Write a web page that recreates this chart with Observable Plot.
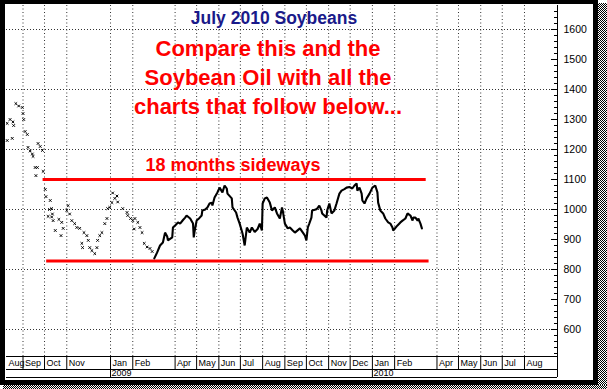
<!DOCTYPE html>
<html><head><meta charset="utf-8">
<script src="https://cdn.jsdelivr.net/npm/d3@7"></script>
<script src="https://cdn.jsdelivr.net/npm/@observablehq/plot@0.6"></script>
<style>
html,body{margin:0;padding:0;background:#fff;}
#wrap{position:relative;width:607px;height:389px;overflow:hidden;font-family:Arial,"Liberation Sans",sans-serif;background:#fff;}
#wrap svg{position:absolute;left:0;top:0;}
.ov{position:absolute;white-space:nowrap;font-weight:bold;line-height:1;font-family:Arial,"Liberation Sans",sans-serif;}
#title{left:274px;top:10px;transform:translateX(-50%);color:#1a1a8a;font-size:17.5px;}
#note{left:268px;top:34px;transform:translateX(-50%);color:#ff0000;font-size:22px;text-align:center;line-height:29px;}
#side{left:233px;top:156px;transform:translateX(-50%);color:#ff0000;font-size:18px;}
#border{position:absolute;left:0;top:0;width:598px;height:385px;border-style:solid;border-color:#000;border-width:4px 5px 5px 5px;box-sizing:border-box;}
#shR{position:absolute;left:598px;top:3px;width:9px;height:386px;background:repeating-conic-gradient(#000 0 25%,#fff 0 50%) 0 0/2px 2px;}
#shB{position:absolute;left:3px;top:385px;width:604px;height:4px;background:repeating-conic-gradient(#000 0 25%,#fff 0 50%) 0 0/2px 2px;}
</style>
</head><body>
<div id="wrap">
  <div id="chart"></div>
  <div class="ov" id="title">July 2010 Soybeans</div>
  <div class="ov" id="note">Compare this and the<br>Soybean Oil with all the<br>charts that follow below...</div>
  <div class="ov" id="side">18 months sideways</div>
  <div id="border"></div>
  <div id="shR"></div>
  <div id="shB"></div>
</div>
<script>
// ---- data ----
const sparseDates = ["2008-08-10","2008-08-10","2008-08-14","2008-08-17","2008-08-18","2008-08-19","2008-08-22","2008-08-26","2008-08-31","2008-09-01","2008-09-02","2008-09-04","2008-09-07","2008-09-08","2008-09-11","2008-09-14","2008-09-15","2008-09-18","2008-09-19","2008-09-21","2008-09-22","2008-09-25","2008-09-28","2008-09-29","2008-10-02","2008-10-03","2008-10-09","2008-10-06","2008-10-08","2008-10-11","2008-10-11","2008-10-12","2008-10-13","2008-10-16","2008-10-21","2008-10-25","2008-10-24","2008-10-27","2008-11-01","2008-11-03","2008-11-05","2008-11-08","2008-11-12","2008-11-15","2008-11-19","2008-11-22","2008-11-23","2008-11-25","2008-11-29","2008-12-01","2008-12-03","2008-12-06","2008-12-10","2008-12-13","2008-12-14","2008-12-17","2008-12-20","2008-12-24","2008-12-27","2008-12-28","2008-12-31","2009-01-03","2009-01-07","2009-01-04","2009-01-10","2009-01-11","2009-01-18","2009-01-24","2009-01-25","2009-01-29","2009-02-01","2009-02-04","2009-02-08","2009-02-03","2009-02-11","2009-02-14","2009-02-17","2009-02-21","2009-02-25","2009-02-28"];
const sparseValues = [1287,1230,1300,1237,1292,1280,1353,1345,1340,1320,1300,1260,1250,1207,1195,1185,1177,1140,1113,1140,1220,1210,1197,1127,1067,1043,1030,977,1000,1003,975,985,963,930,967,957,913,937,997,1013,985,963,953,940,937,887,873,923,913,897,873,863,853,873,897,913,923,953,970,1003,1007,1023,1037,1055,1045,1025,1003,990,980,970,963,970,957,935,940,923,887,875,870,860];

const lineDates = ["2009-03-03","2009-03-07","2009-03-11","2009-03-15","2009-03-18","2009-03-21","2009-03-22","2009-03-28","2009-03-29","2009-04-01","2009-04-05","2009-04-08","2009-04-12","2009-04-15","2009-04-17","2009-04-22","2009-04-26","2009-04-27","2009-04-28","2009-05-01","2009-05-05","2009-05-08","2009-05-09","2009-05-13","2009-05-16","2009-05-19","2009-05-22","2009-05-23","2009-05-26","2009-05-30","2009-06-02","2009-06-06","2009-06-09","2009-06-12","2009-06-13","2009-06-19","2009-06-20","2009-06-25","2009-06-27","2009-06-30","2009-07-04","2009-07-07","2009-07-10","2009-07-14","2009-07-17","2009-07-21","2009-07-25","2009-07-28","2009-07-31","2009-08-01","2009-08-04","2009-08-07","2009-08-11","2009-08-14","2009-08-18","2009-08-21","2009-08-25","2009-08-28","2009-08-29","2009-09-01","2009-09-05","2009-09-08","2009-09-12","2009-09-15","2009-09-22","2009-09-29","2009-10-01","2009-10-03","2009-10-05","2009-10-08","2009-10-09","2009-10-14","2009-10-16","2009-10-19","2009-10-22","2009-10-23","2009-10-29","2009-10-30","2009-11-02","2009-11-05","2009-11-09","2009-11-12","2009-11-16","2009-11-19","2009-11-23","2009-11-26","2009-11-30","2009-12-04","2009-12-07","2009-12-10","2009-12-11","2009-12-14","2009-12-17","2009-12-18","2009-12-21","2009-12-24","2009-12-28","2010-01-01","2010-01-05","2010-01-08","2010-01-09","2010-01-12","2010-01-16","2010-01-19","2010-01-23","2010-01-26","2010-01-29","2010-01-30","2010-02-05","2010-02-09","2010-02-12","2010-02-16","2010-02-19","2010-02-23","2010-02-26","2010-02-27","2010-03-02","2010-03-05","2010-03-06","2010-03-09","2010-03-11"];
const lineValues = [837,857,880,890,923,910,897,907,940,947,957,953,965,973,980,970,953,907,925,963,972,980,997,1000,1007,1020,1023,1013,1040,1057,1073,1057,1080,1070,1053,1037,1007,990,973,953,920,880,940,923,940,925,935,953,930,1020,1037,1040,1023,997,1007,987,970,1007,997,953,937,940,930,923,937,913,897,940,953,973,997,1000,1003,1013,997,987,973,997,1020,987,997,1020,1053,1063,1068,1073,1075,1070,1080,1087,1063,1073,1053,1030,1020,1037,1053,1073,1080,1057,1023,997,987,970,957,953,940,930,947,957,963,970,987,980,963,973,973,963,970,953,937];

const redLevels = [1100, 828];
const redStarts = ["2008-09-29","2008-10-04"];
const redEnds = ["2010-03-17","2010-03-21"];

const monthTicks = ["2008-08-01","2008-09-01","2008-10-01","2008-11-01","2009-01-01","2009-02-01","2009-04-01","2009-05-01","2009-06-01","2009-07-01","2009-08-01","2009-09-01","2009-10-01","2009-11-01","2009-12-01","2010-01-01","2010-02-01","2010-04-01","2010-05-01","2010-06-01","2010-07-01","2010-08-01"];
const yearTicks = ["2009-01-01","2010-01-01"];
const priceTicks = [600,700,800,900,1000,1100,1200,1300,1400,1500,1600];
const gridPrices = [600,800,1000,1200,1400,1600];

// ---- build ----
const parse = d3.utcParse("%Y-%m-%d");
const xStart = parse("2008-08-09"), xEnd = parse("2010-09-16");
const sparse = sparseDates.map((d,i)=>({d:parse(d), v:sparseValues[i]}));
const line = lineDates.map((d,i)=>({d:parse(d), v:lineValues[i]}));
const reds = redLevels.map((v,i)=>({v, a:parse(redStarts[i]), b:parse(redEnds[i])}));
const months = monthTicks.map(parse);
const monthsIn = months.filter(d=>d>=xStart);
const years = yearTicks.map(parse);
const minor = d3.range(520, 1680, 20);
const fmtM = d3.utcFormat("%b"), fmtY = d3.utcFormat("%Y");
const yMin = 510;
const noText = () => "";

const chart = Plot.plot({
  width: 607, height: 389,
  marginLeft: 6, marginRight: 50, marginTop: 5, marginBottom: 33,
  style: {fontFamily: "Arial, 'Liberation Sans', sans-serif", background: "transparent", overflow: "visible"},
  x: {type: "utc", domain: [xStart, xEnd], axis: null},
  y: {domain: [yMin, 1680], axis: null},
  marks: [
    Plot.ruleY(gridPrices, {stroke: "#333", strokeDasharray: "1,2"}),
    Plot.ruleX(monthsIn, {stroke: "#333", strokeDasharray: "1,2.5"}),
    Plot.ruleY(reds, {y: "v", x1: "a", x2: "b", stroke: "#ff0000", strokeWidth: 3}),
    Plot.dot(sparse, {x: "d", y: "v", symbol: "times", r: 1.3, stroke: "#000", strokeWidth: 1}),
    Plot.line(line, {x: "d", y: "v", stroke: "#000", strokeWidth: 2.1, strokeLinejoin: "miter"}),
    // right price axis
    Plot.ruleX([xEnd], {stroke: "#000"}),
    Plot.ruleY(minor, {insetLeft: 548, stroke: "#000"}),
    Plot.ruleY(priceTicks, {insetLeft: 545, stroke: "#000"}),
    Plot.text(priceTicks, {y: d => d, text: d => String(d), frameAnchor: "right", dx: 6, textAnchor: "start", fontSize: 10.5, fill: "#000"}),
    // bottom date band
    Plot.ruleY([yMin], {stroke: "#000"}),
    Plot.ruleY([yMin], {stroke: "#000", dy: 13}),
    Plot.ruleY([yMin], {stroke: "#000", dy: 21}),
    Plot.axisX({ticks: monthsIn, tickSize: 13, tickFormat: noText}),
    Plot.axisX({ticks: [xEnd], tickSize: 21, tickFormat: noText}),
    Plot.axisX({ticks: years, tickSize: 8, dy: 13, tickFormat: noText}),
    Plot.text(months, {x: d => d < xStart ? xStart : d, text: d => fmtM(d), frameAnchor: "bottom", dy: 7, dx: 2, textAnchor: "start", lineAnchor: "middle", fontSize: 9, fill: "#000"}),
    Plot.text(years, {x: d => d, text: d => fmtY(d), frameAnchor: "bottom", dy: 17, dx: 1, textAnchor: "start", lineAnchor: "middle", fontSize: 9, fill: "#000"})
  ]
});
document.getElementById("chart").appendChild(chart);
</script>
</body></html>
